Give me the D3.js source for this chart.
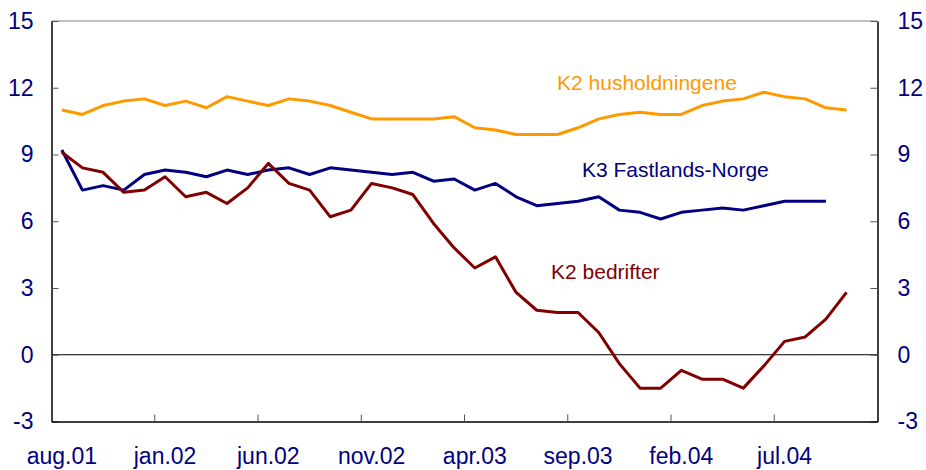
<!DOCTYPE html>
<html>
<head>
<meta charset="utf-8">
<script src="https://cdn.jsdelivr.net/npm/d3@7"></script>
<style>
  body { margin: 0; background: #fff; }
  svg { display: block; font-family: "Liberation Sans", Arial, sans-serif; }
</style>
</head>
<body>
<svg id="chart" width="926" height="470"></svg>
<script>
// months on the x axis (aug.01 - nov.04)
var months = ["aug.01","sep.01","okt.01","nov.01","des.01",
  "jan.02","feb.02","mar.02","apr.02","mai.02","jun.02","jul.02","aug.02","sep.02","okt.02","nov.02","des.02",
  "jan.03","feb.03","mar.03","apr.03","mai.03","jun.03","jul.03","aug.03","sep.03","okt.03","nov.03","des.03",
  "jan.04","feb.04","mar.04","apr.04","mai.04","jun.04","jul.04","aug.04","sep.04","okt.04","nov.04"];
var tickMonths = ["aug.01","jan.02","jun.02","nov.02","apr.03","sep.03","feb.04","jul.04"];
var yTicks = [-3, 0, 3, 6, 9, 12, 15];

// K2 husholdningene (aug.01 - okt.04)
var husholdninger = [11.0, 10.8, 11.2, 11.4, 11.5, 11.2, 11.4, 11.1, 11.6, 11.4,
  11.2, 11.5, 11.4, 11.2, 10.9, 10.6, 10.6, 10.6, 10.6, 10.7,
  10.2, 10.1, 9.9, 9.9, 9.9, 10.2, 10.6, 10.8, 10.9, 10.8,
  10.8, 11.2, 11.4, 11.5, 11.8, 11.6, 11.5, 11.1, 11.0];
// K3 Fastlands-Norge (aug.01 - sep.04)
var fastland = [9.2, 7.4, 7.6, 7.4, 8.1, 8.3, 8.2, 8.0, 8.3, 8.1,
  8.3, 8.4, 8.1, 8.4, 8.3, 8.2, 8.1, 8.2, 7.8, 7.9,
  7.4, 7.7, 7.1, 6.7, 6.8, 6.9, 7.1, 6.5, 6.4, 6.1,
  6.4, 6.5, 6.6, 6.5, 6.7, 6.9, 6.9, 6.9];
// K2 bedrifter (aug.01 - okt.04)
var bedrifter = [9.1, 8.4, 8.2, 7.3, 7.4, 8.0, 7.1, 7.3, 6.8, 7.5,
  8.6, 7.7, 7.4, 6.2, 6.5, 7.7, 7.5, 7.2, 5.9, 4.8,
  3.9, 4.4, 2.8, 2.0, 1.9, 1.9, 1.0, -0.4, -1.5, -1.5,
  -0.7, -1.1, -1.1, -1.5, -0.5, 0.6, 0.8, 1.6, 2.8];

var svg = d3.select("#chart");
var plotLeft = 51.5, plotRight = 877.5, plotTop = 21, plotBottom = 421.5;
var navy = "#000080";

var x = d3.scaleBand().domain(months).range([plotLeft, plotRight]).padding(0);
var y = d3.scaleLinear().domain([-3, 15]).range([plotBottom, plotTop]);
var bw = x.bandwidth();
var plainNum = function(d) { return String(d); };  // hyphen minus, as in the original

//Frame: grey top line
svg.append("line").attr("x1", plotLeft).attr("x2", plotRight).attr("y1", plotTop).attr("y2", plotTop)
    .attr("stroke", "#808080").attr("stroke-width", 1);

//Zero line
svg.append("line").attr("x1", plotLeft).attr("x2", plotRight).attr("y1", y(0)).attr("y2", y(0))
    .attr("stroke", "#000").attr("stroke-width", 1);

//Left y axis
var yl = svg.append("g")
    .attr("transform", "translate(" + plotLeft + ",0)")
    .call(d3.axisLeft(y).tickValues(yTicks).tickFormat(plainNum)
        .tickSize(-7).tickPadding(18).tickSizeOuter(0));
//Right y axis
var yr = svg.append("g")
    .attr("transform", "translate(" + plotRight + ",0)")
    .call(d3.axisRight(y).tickValues(yTicks).tickFormat(plainNum)
        .tickSize(-7).tickPadding(20).tickSizeOuter(0));

//X axis: labels at band centres, ticks at band starts
var xa = svg.append("g")
    .attr("transform", "translate(0," + plotBottom + ")")
    .call(d3.axisBottom(x).tickValues(tickMonths).tickSize(0).tickPadding(26).tickSizeOuter(0));
svg.selectAll(".xtick")
    .data(tickMonths.slice(1))
    .enter()
    .append("line")
    .attr("class", "xtick")
    .attr("x1", function(d) { return x(d); })
    .attr("x2", function(d) { return x(d); })
    .attr("y1", plotBottom).attr("y2", plotBottom - 7)
    .attr("stroke", "#555").attr("stroke-width", 1);

[yl, yr, xa].forEach(function(g) {
    g.select(".domain").attr("stroke", "#000").attr("stroke-width", 1.5);
    g.selectAll(".tick line").attr("stroke", "#555");
    g.selectAll(".tick text")
        .attr("fill", navy)
        .style("font-size", "23px")
        .style("font-family", "Liberation Sans, Arial, sans-serif");
});

//Series lines
var line = d3.line()
    .x(function(d, i) { return x(months[i]) + bw / 2; })
    .y(function(d) { return y(d); });

var series = [
    { values: husholdninger, colour: "#FF9900" },
    { values: fastland, colour: "#000080" },
    { values: bedrifter, colour: "#800000" }
];
svg.selectAll(".series")
    .data(series)
    .enter()
    .append("path")
    .attr("class", "series")
    .attr("fill", "none")
    .attr("stroke", function(d) { return d.colour; })
    .attr("stroke-width", 3)
    .attr("stroke-linejoin", "round")
    .attr("d", function(d) { return line(d.values); });

//Series labels
var labels = [
    { text: "K2 husholdningene", x: 557, y: 90, colour: "#FF9900" },
    { text: "K3 Fastlands-Norge", x: 582, y: 177, colour: "#000080" },
    { text: "K2 bedrifter", x: 551, y: 279, colour: "#800000" }
];
svg.selectAll(".lab")
    .data(labels)
    .enter()
    .append("text")
    .attr("class", "lab")
    .attr("x", function(d) { return d.x; })
    .attr("y", function(d) { return d.y; })
    .attr("fill", function(d) { return d.colour; })
    .style("font-size", "21px")
    .text(function(d) { return d.text; });
</script>
</body>
</html>
